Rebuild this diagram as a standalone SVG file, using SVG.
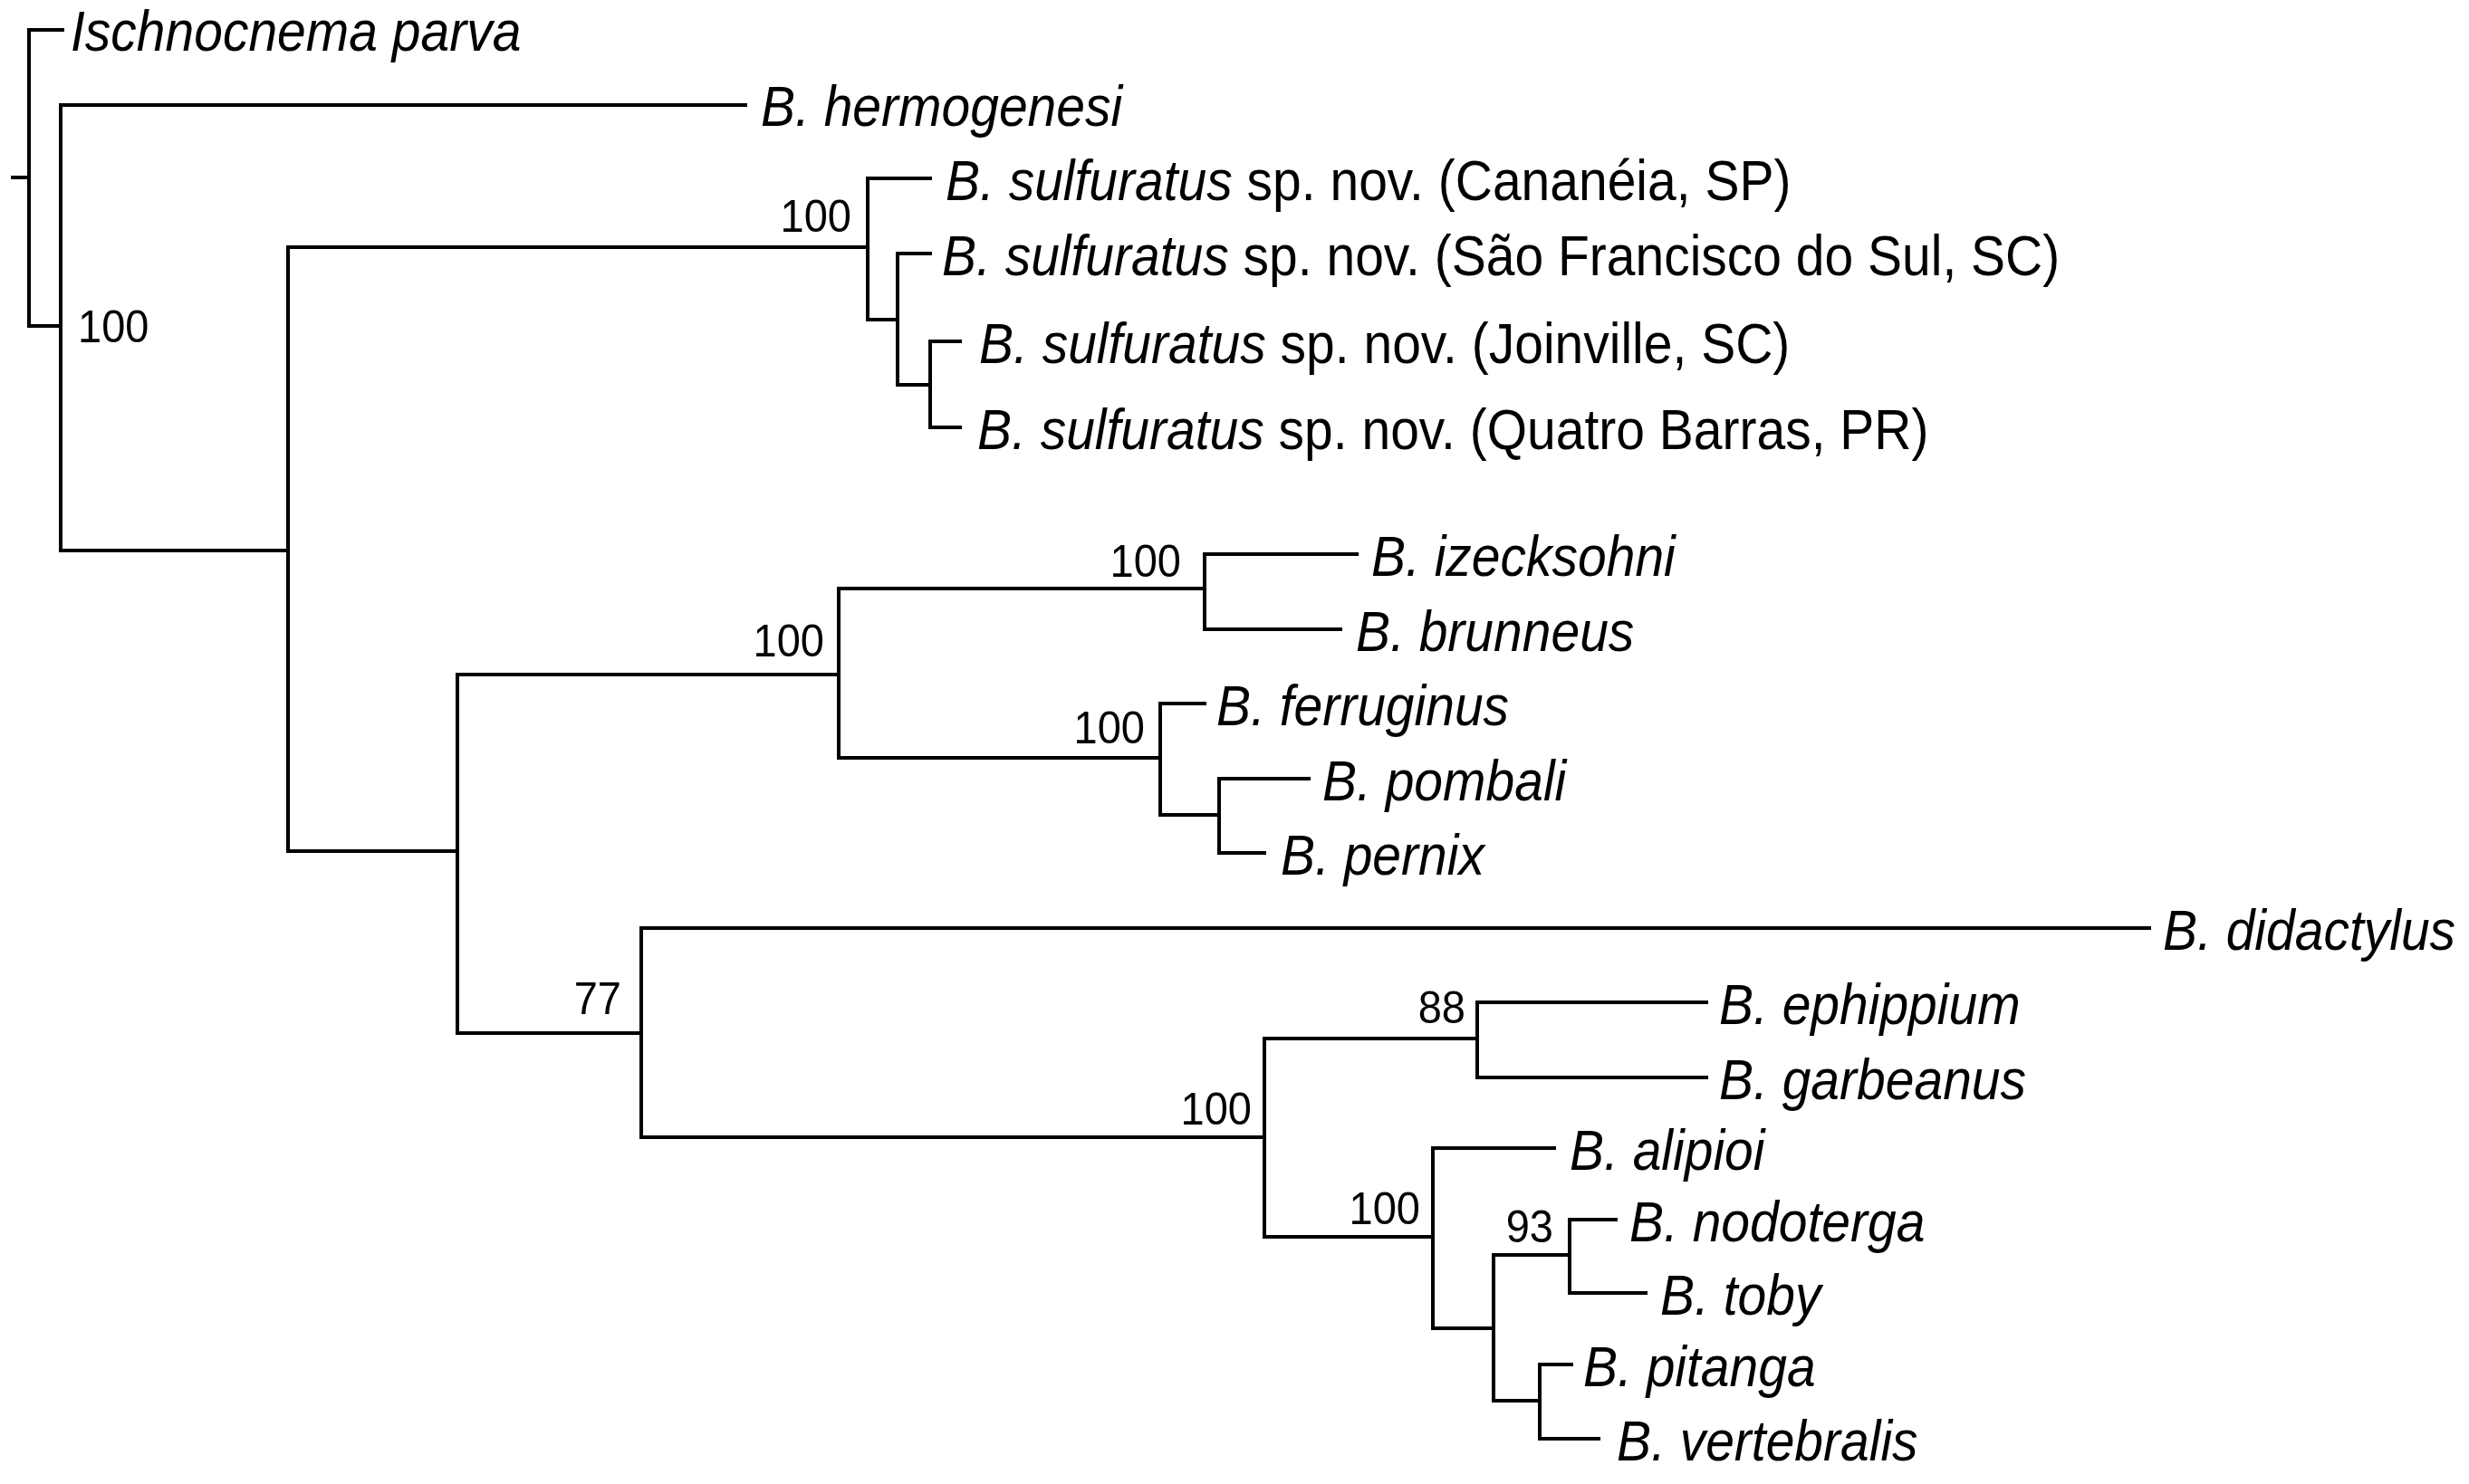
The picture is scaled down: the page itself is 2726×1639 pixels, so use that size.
<svg xmlns="http://www.w3.org/2000/svg" width="2726" height="1639" viewBox="0 0 2726 1639">
<style>
.br{fill:none;stroke:#000;stroke-width:4;stroke-linecap:square;stroke-linejoin:miter}
.lab{font-family:"Liberation Sans",Arial,sans-serif;font-size:57px;fill:#000}
.it{font-style:italic}
.bs{font-family:"Liberation Sans",Arial,sans-serif;font-size:47px;fill:#000;text-anchor:end}
</style>
<rect width="2726" height="1639" fill="#fff"/>
<g id="connectors">
<path class="br" d="M14,196 H32"/>
<path class="br" d="M69,33 H32 V360 H67"/>
<path class="br" d="M823,116 H67 V608 H318"/>
<path class="br" d="M958,273 H318 V940 H505"/>
<path class="br" d="M1027,197 H958 V353 H991"/>
<path class="br" d="M1027,280 H991 V425 H1027"/>
<path class="br" d="M1060,377 H1027 V472 H1060"/>
<path class="br" d="M926,745 H505 V1141 H708"/>
<path class="br" d="M1330,650 H926 V837 H1281"/>
<path class="br" d="M1498,612 H1330 V695 H1480"/>
<path class="br" d="M1330,777 H1281 V900 H1346"/>
<path class="br" d="M1445,860 H1346 V942 H1396"/>
<path class="br" d="M2373,1025 H708 V1256 H1396"/>
<path class="br" d="M1631,1147 H1396 V1366 H1582"/>
<path class="br" d="M1884,1107 H1631 V1190 H1884"/>
<path class="br" d="M1716,1268 H1582 V1467 H1649"/>
<path class="br" d="M1733,1386 H1649 V1547 H1700"/>
<path class="br" d="M1784,1347 H1733 V1428 H1817"/>
<path class="br" d="M1735,1507 H1700 V1589 H1765"/>
</g>
<g id="support">
<g id="node-A"><text class="bs" transform="translate(86,378) scale(1,1.08)" style="text-anchor:start">100</text></g>
<g id="node-C"><text class="bs" transform="translate(940,256) scale(1,1.08)">100</text></g>
<g id="node-G"><text class="bs" transform="translate(910,725) scale(1,1.08)">100</text></g>
<g id="node-H"><text class="bs" transform="translate(1304,637) scale(1,1.08)">100</text></g>
<g id="node-I"><text class="bs" transform="translate(1264,821) scale(1,1.08)">100</text></g>
<g id="node-K"><text class="bs" transform="translate(686,1120) scale(1,1.08)">77</text></g>
<g id="node-L"><text class="bs" transform="translate(1382,1242) scale(1,1.08)">100</text></g>
<g id="node-M"><text class="bs" transform="translate(1618,1130) scale(1,1.08)">88</text></g>
<g id="node-N"><text class="bs" transform="translate(1568,1352) scale(1,1.08)">100</text></g>
<g id="node-P"><text class="bs" transform="translate(1715,1372) scale(1,1.08)">93</text></g>
</g>
<g id="taxa">
<g id="t-ischnocnema"><text class="lab it" transform="translate(78,56) scale(1,1.1)">Ischnocnema parva</text></g>
<g id="t-hermogenesi"><text class="lab it" transform="translate(840,139) scale(1,1.1)">B. hermogenesi</text></g>
<g id="t-cananeia"><text class="lab" transform="translate(1044,221) scale(1,1.1)"><tspan class="it">B. sulfuratus</tspan> sp. nov. (Cananéia, SP)</text></g>
<g id="t-saofrancisco"><text class="lab" transform="translate(1040,304) scale(1,1.1)"><tspan class="it">B. sulfuratus</tspan> sp. nov. (São Francisco do Sul, SC)</text></g>
<g id="t-joinville"><text class="lab" transform="translate(1081,401) scale(1,1.1)"><tspan class="it">B. sulfuratus</tspan> sp. nov. (Joinville, SC)</text></g>
<g id="t-quatrobarras"><text class="lab" transform="translate(1079,496) scale(1,1.1)"><tspan class="it">B. sulfuratus</tspan> sp. nov. (Quatro Barras, PR)</text></g>
<g id="t-izecksohni"><text class="lab it" transform="translate(1514,636) scale(1,1.1)">B. izecksohni</text></g>
<g id="t-brunneus"><text class="lab it" transform="translate(1497,719) scale(1,1.1)">B. brunneus</text></g>
<g id="t-ferruginus"><text class="lab it" transform="translate(1343,801) scale(1,1.1)">B. ferruginus</text></g>
<g id="t-pombali"><text class="lab it" transform="translate(1460,884) scale(1,1.1)">B. pombali</text></g>
<g id="t-pernix"><text class="lab it" transform="translate(1414,966) scale(1,1.1)">B. pernix</text></g>
<g id="t-didactylus"><text class="lab it" transform="translate(2388,1049) scale(1,1.1)">B. didactylus</text></g>
<g id="t-ephippium"><text class="lab it" transform="translate(1898,1131) scale(1,1.1)">B. ephippium</text></g>
<g id="t-garbeanus"><text class="lab it" transform="translate(1898,1214) scale(1,1.1)">B. garbeanus</text></g>
<g id="t-alipioi"><text class="lab it" transform="translate(1733,1292) scale(1,1.1)">B. alipioi</text></g>
<g id="t-nodoterga"><text class="lab it" transform="translate(1799,1371) scale(1,1.1)">B. nodoterga</text></g>
<g id="t-toby"><text class="lab it" transform="translate(1833,1452) scale(1,1.1)">B. toby</text></g>
<g id="t-pitanga"><text class="lab it" transform="translate(1748,1531) scale(1,1.1)">B. pitanga</text></g>
<g id="t-vertebralis"><text class="lab it" transform="translate(1785,1613) scale(1,1.1)">B. vertebralis</text></g>
</g>
</svg>
